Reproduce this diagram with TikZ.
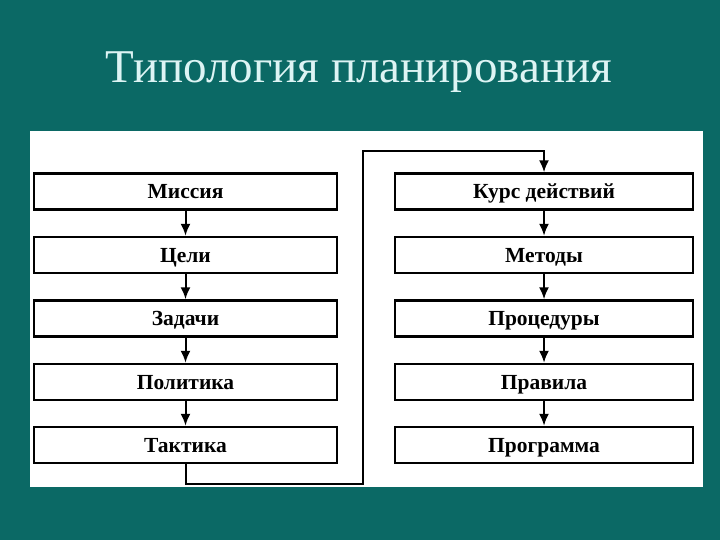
\documentclass[tikz,border=0pt]{standalone}
\usepackage{fontspec}
\setmainfont{Liberation Serif}
\usetikzlibrary{arrows.meta}

\definecolor{slidebg}{HTML}{0B6965}
\definecolor{titlefg}{HTML}{DDF4F4}

\begin{document}
\begin{tikzpicture}[x=1pt,y=-1pt,
  font=\fontsize{21.5}{24}\selectfont\bfseries,
  stage/.style={draw,line width=2.4pt,fill=white,minimum height=36pt,inner sep=0pt,text height=14pt,text depth=0pt},
  leftstage/.style={stage,minimum width=303pt},
  rightstage/.style={stage,minimum width=298pt},
  flow/.style={line width=2pt,-{Latex[length=12pt,width=10pt]}}]
%\draw[step=10pt,gray,very thin] (0,0) grid (720,540);
\fill [slidebg] (0,0) rectangle (720,540);
\fill [white] (30,131) rectangle (703,487);

\node [text=titlefg,font=\fontsize{47}{52}\selectfont,anchor=base] (title) at (359,83) {Типология планирования};

% left column
\node [leftstage] (mis) at (185.5,191.5) {Миссия};
\node [leftstage] (cel) at (185.5,255) {Цели};
\node [leftstage] (zad) at (185.5,318.5) {Задачи};
\node [leftstage] (pol) at (185.5,382) {Политика};
\node [leftstage] (tak) at (185.5,445) {Тактика};

% right column
\node [rightstage] (kur) at (544,191.5) {Курс действий};
\node [rightstage] (met) at (544,255) {Методы};
\node [rightstage] (pro) at (544,318.5) {Процедуры};
\node [rightstage] (pra) at (544,382) {Правила};
\node [rightstage] (prg) at (544,445) {Программа};

\draw [flow] (mis) -- (cel);
\draw [flow] (cel) -- (zad);
\draw [flow] (zad) -- (pol);
\draw [flow] (pol) -- (tak);

\draw [flow] (kur) -- (met);
\draw [flow] (met) -- (pro);
\draw [flow] (pro) -- (pra);
\draw [flow] (pra) -- (prg);

% link from the bottom of the left column to the top of the right one
\coordinate (lowturn) at (363,484);
\coordinate (upturn) at (363,151);
\draw [flow] (tak.south) |- (lowturn) -- (upturn) -| (kur.north);
\end{tikzpicture}
\end{document}
